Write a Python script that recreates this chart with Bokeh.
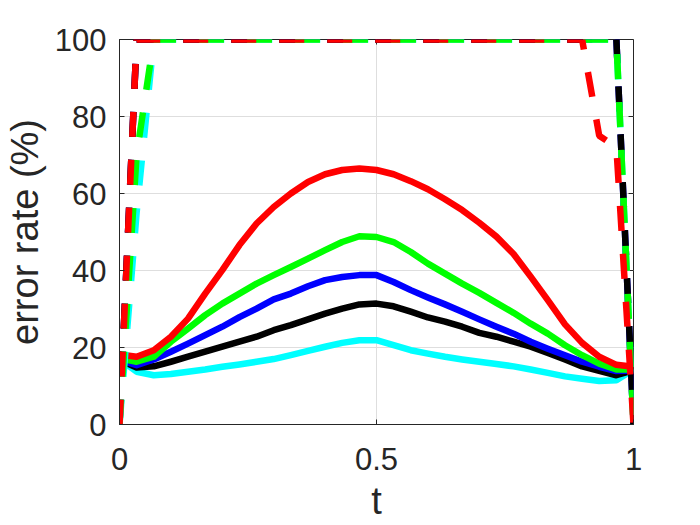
from bokeh.plotting import figure
from bokeh.models import Range1d, FixedTicker
from bokeh.embed import file_html
from bokeh.resources import INLINE

# ---- data ----
t = [0, 0.0333, 0.0667, 0.1, 0.1333, 0.1667, 0.2, 0.2333, 0.2667, 0.3,
     0.3333, 0.3667, 0.4, 0.4333, 0.4667, 0.5, 0.5333, 0.5667, 0.6, 0.6333,
     0.6667, 0.7, 0.7333, 0.7667, 0.8, 0.8333, 0.8667, 0.9, 0.9333, 0.9667, 1.0]

red = [18.2, 17.6, 19.3, 22.8, 27.5, 34.0, 40.1, 46.6, 52.2, 56.5,
       60.0, 63.0, 65.0, 66.1, 66.5, 66.1, 65.0, 63.2, 61.1, 58.5,
       55.7, 52.4, 48.8, 44.3, 38.4, 32.3, 26.0, 21.2, 17.6, 15.5, 15.0]
green = [17.2, 16.3, 17.6, 21.5, 24.9, 28.4, 31.4, 34.0, 36.6, 38.8,
         40.9, 43.1, 45.3, 47.4, 48.9, 48.7, 47.4, 44.8, 41.8, 39.2,
         36.6, 34.2, 31.6, 29.0, 26.2, 23.6, 20.6, 18.0, 15.8, 14.3, 14.3]
blue = [16.8, 15.4, 16.9, 18.9, 21.0, 23.2, 25.4, 27.9, 30.1, 32.5,
        34.0, 35.9, 37.5, 38.3, 38.8, 38.8, 37.0, 34.9, 33.0, 31.2,
        29.3, 27.3, 25.4, 23.6, 21.5, 19.7, 18.0, 16.3, 15.0, 13.9, 14.0]
black = [16.8, 14.8, 15.1, 16.3, 17.6, 18.9, 20.2, 21.5, 22.8, 24.5,
         25.8, 27.3, 28.8, 30.1, 31.2, 31.4, 30.7, 29.3, 27.8, 26.7,
         25.4, 23.8, 22.8, 21.5, 20.2, 18.6, 16.9, 15.1, 13.9, 12.8, 14.1]
cyan = [17.0, 13.7, 12.8, 13.1, 13.7, 14.3, 15.0, 15.6, 16.3, 17.0,
        18.0, 19.1, 20.2, 21.2, 21.9, 21.9, 20.6, 19.3, 18.4, 17.6,
        16.9, 16.3, 15.7, 15.1, 14.3, 13.4, 12.5, 11.9, 11.3, 11.5, 14.3]

# dashed (bound) curves
t_red_d = [0, 0.0333, 0.9, 0.9333, 0.9667, 1.0]
red_d = [0, 100, 100, 75, 72, 0]
t_green_d = [0, 0.0333, 0.0667, 0.9667, 1.0]
green_d = [0, 70, 100, 100, 0]
t_cyan_d = [0, 0.0333, 0.0667, 0.9667, 1.0]
cyan_d = [0, 55, 100, 100, 0]
t_black_d = [0, 0.0333, 0.9667, 1.0]
black_d = [0, 100, 100, 0]
t_blue_d = [0, 0.0333, 0.9667, 1.0]
blue_d = [0, 100, 100, 0]

x_ticks = [0, 0.5, 1]
x_tick_labels = {0: "0", 0.5: "0.5", 1: "1"}
y_ticks = [0, 20, 40, 60, 80, 100]

FONT = "Liberation Sans"
TXT = "#262626"

X0, X1, Y0, Y1 = 0, 1, 0, 100
FRAME_W, FRAME_H = 515, 385
TICK = 5  # px

p = figure(width=700, height=525, output_backend="svg", toolbar_location=None,
           x_range=Range1d(X0, X1), y_range=Range1d(Y0, Y1),
           min_border_left=118, min_border_right=67,
           min_border_top=39, min_border_bottom=101)
p.background_fill_color = "white"
p.border_fill_color = "white"
p.outline_line_color = TXT
p.outline_line_width = 1

xt = FixedTicker(ticks=x_ticks)
yt = FixedTicker(ticks=y_ticks)

for ax in (p.xaxis[0], p.yaxis[0]):
    ax.axis_line_color = TXT
    ax.major_tick_in = TICK
    ax.major_tick_out = 0
    ax.minor_tick_line_color = None
    ax.major_tick_line_color = TXT
    ax.major_label_text_font = FONT
    ax.major_label_text_font_size = "31px"
    ax.major_label_text_color = TXT
    ax.axis_label_text_font = FONT
    ax.axis_label_text_font_size = "38px"
    ax.axis_label_text_font_style = "normal"
    ax.axis_label_text_color = TXT

p.xaxis[0].ticker = xt
p.xaxis[0].major_label_overrides = x_tick_labels
p.xaxis[0].major_label_standoff = 23
p.xaxis[0].axis_label = "t"
p.xaxis[0].axis_label_standoff = 7

p.yaxis[0].ticker = yt
p.yaxis[0].major_label_standoff = 13
p.yaxis[0].axis_label = "error rate (%)"
p.yaxis[0].axis_label_standoff = 6

p.xgrid.ticker = xt
p.ygrid.ticker = yt
p.xgrid.grid_line_color = "#dedede"
p.ygrid.grid_line_color = "#dedede"

# mirrored inward ticks on the top and right edges of the box
dy = TICK / FRAME_H * (Y1 - Y0)
dx = TICK / FRAME_W * (X1 - X0)
p.segment(x0=x_ticks, y0=[Y1] * len(x_ticks), x1=x_ticks, y1=[Y1 - dy] * len(x_ticks),
          line_color=TXT, line_width=1)
p.segment(x0=[X1] * len(y_ticks), y0=y_ticks, x1=[X1 - dx] * len(y_ticks), y1=y_ticks,
          line_color=TXT, line_width=1)

LW = 6.5
# solid lines
p.line(t, cyan, line_color="#00FFFF", line_width=LW, line_join="round")
p.line(t, black, line_color="#000000", line_width=LW, line_join="round")
p.line(t, blue, line_color="#0000FF", line_width=LW, line_join="round")
p.line(t, green, line_color="#00FF00", line_width=LW, line_join="round")
p.line(t, red, line_color="#FF0000", line_width=LW, line_join="round")

# dashed lines
DASH = "25 23"
p.line(t_blue_d, blue_d, line_color="#0000FF", line_width=LW, line_dash=DASH)
p.line(t_black_d, black_d, line_color="#000000", line_width=LW, line_dash=DASH)
p.line(t_cyan_d, cyan_d, line_color="#00FFFF", line_width=LW, line_dash=DASH)
p.line(t_green_d, green_d, line_color="#00FF00", line_width=LW, line_dash=DASH)
p.line(t_red_d, red_d, line_color="#FF0000", line_width=LW, line_dash=DASH)

open("out.html", "w").write(file_html(p, INLINE))
